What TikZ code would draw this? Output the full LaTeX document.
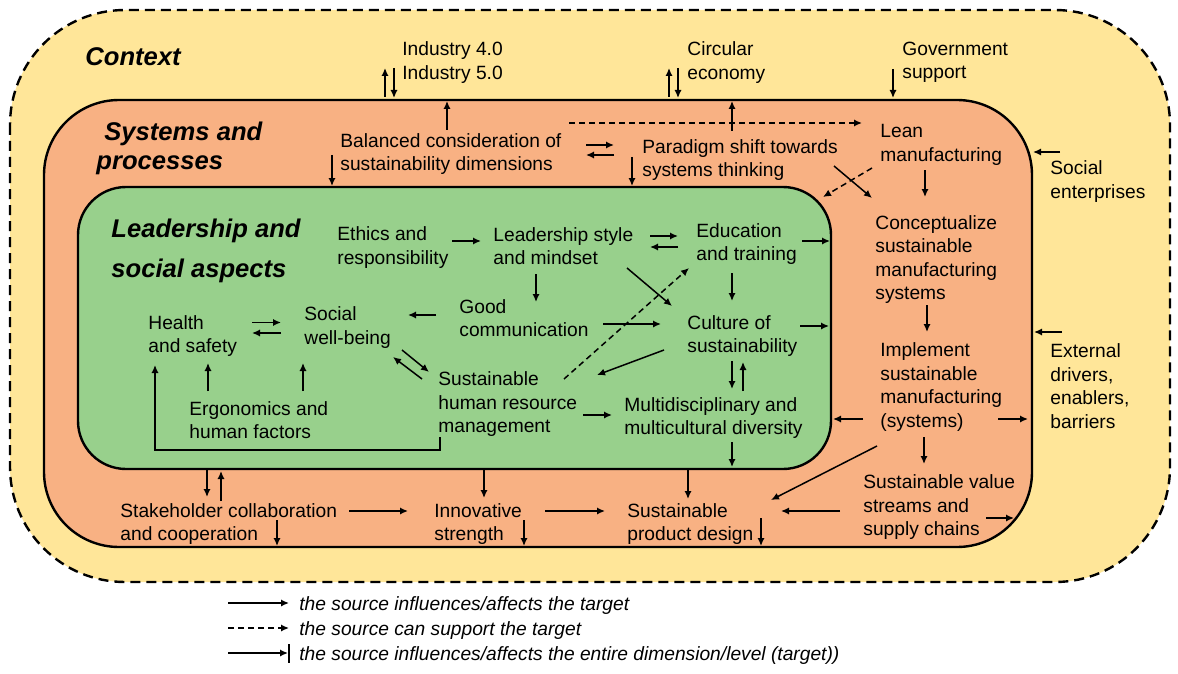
\documentclass[tikz,border=0pt]{standalone}
\usepackage{fontspec}
\setmainfont{Liberation Sans}
\usetikzlibrary{arrows.meta,calc}

\definecolor{ctxyellow}{HTML}{FFE699}
\definecolor{sysorange}{HTML}{F8B183}
\definecolor{ledgreen}{HTML}{98D08C}

\tikzset{
  lbl/.style={anchor=west, align=left, inner sep=0pt, font=\fontsize{9.6}{11.75}\selectfont},
  lgd/.style={lbl, font=\fontsize{9.6}{11.75}\selectfont\itshape},
  ttl/.style={anchor=west, align=left, inner sep=0pt},
  arr/.style={line width=0.75pt, -{Latex[length=4pt,width=3.6pt]}},
  darr/.style={arr, dash pattern=on 3pt off 2pt},
  level/.style={line width=1.2pt},
}

\begin{document}
\begin{tikzpicture}[x=0.5pt,y=-0.5pt]
\useasboundingbox (0,0) rectangle (1178,674);

% the three levels
\draw[level, fill=ctxyellow, dash pattern=on 5pt off 3pt, rounded corners=57.5pt] (10,10) rectangle (1170,582);
\draw[level, fill=sysorange, rounded corners=37.5pt] (44,100) rectangle (1032,547);
\draw[level, fill=ledgreen, rounded corners=24pt] (78,187) rectangle (831,469);

% titles
\node[ttl, font=\fontsize{12.8}{14.5}\selectfont\bfseries\itshape] (context) at (85,56.5) {Context};
\node[ttl, font=\fontsize{12.8}{14.5}\selectfont\bfseries\itshape] (systems) at (96,148) {\hspace*{4pt}Systems and\\processes};
\node[ttl, font=\fontsize{12.8}{20}\selectfont\bfseries\itshape] (leader) at (111,250.5) {Leadership and\\social aspects};

% context
\node[lbl] (ind) at (402,62.5) {Industry 4.0\\Industry 5.0};
\node[lbl] (circ) at (687,62.5) {Circular\\economy};
\node[lbl] (gov) at (902,62.5) {Government\\support};
\node[lbl] (socent) at (1050,181.5) {Social\\enterprises};
\node[lbl] (ext) at (1050,386) {External\\drivers,\\enablers,\\barriers};

% systems and processes
\node[lbl] (bal) at (340,154) {Balanced consideration of\\sustainability dimensions};
\node[lbl] (para) at (642,160) {Paradigm shift towards\\systems thinking};
\node[lbl] (lean) at (880,145) {Lean\\manufacturing};
\node[lbl] (concept) at (875,259.5) {Conceptualize\\sustainable\\manufacturing\\systems};
\node[lbl] (impl) at (880,387) {Implement\\sustainable\\manufacturing\\(systems)};
\node[lbl] (valst) at (863,507.5) {Sustainable value\\streams and\\supply chains};
\node[lbl] (prod) at (627,524) {Sustainable\\product design};
\node[lbl] (innov) at (434,524) {Innovative\\strength};
\node[lbl] (stake) at (120,524) {Stakeholder collaboration\\and cooperation};

% leadership and social aspects
\node[lbl] (ethics) at (337,247.5) {Ethics and\\responsibility};
\node[lbl] (lead) at (493,246) {Leadership style\\and mindset};
\node[lbl] (edu) at (696,244) {Education\\and training};
\node[lbl] (good) at (459,318) {Good\\communication};
\node[lbl] (culture) at (687,336) {Culture of\\sustainability};
\node[lbl] (social) at (304,327.5) {Social\\well-being};
\node[lbl] (health) at (148,336) {Health\\and safety};
\node[lbl] (ergo) at (189,420) {Ergonomics and\\human factors};
\node[lbl] (shrm) at (438,404.5) {Sustainable\\human resource\\management};
\node[lbl] (multi) at (624,418) {Multidisciplinary and\\multicultural diversity};

% arrows, context
\draw[arr] (ind.west) ++(-17,34.5) -- ++(0,-29);
\draw[arr] (ind.west) ++(-8,5.5) -- ++(0,30);
\draw[arr] (circ.west) ++(-18,34.5) -- ++(0,-29);
\draw[arr] (circ.west) ++(-9,5.5) -- ++(0,30);
\draw[arr] (gov.west) ++(-9,6.5) -- ++(0,29);
\draw[arr] (socent.west) ++(10,-29.5) -- ++(-27,0);
\draw[arr] (ext.west) ++(12,-54) -- ++(-28,0);

% arrows, systems and processes
\draw[arr] (bal.west) ++(107,-24) -- ++(0,-29);
\draw[arr] (para.west) ++(90,-29) -- ++(0,-30);
\draw[darr] (bal.west) ++(229,-31) -- ++(293,0);
\draw[arr] (bal.west) ++(246,-9) -- ++(28,0);
\draw[arr] (para.west) ++(-28,-5) -- ++(-28,0);
\draw[arr] (bal.west) ++(-8,1) -- ++(0,31);
\draw[arr] (para.west) ++(-10,-3) -- ++(0,29);
\draw[arr] (para.west) ++(192,6) -- ++(38,32);
\draw[darr] (lean.west) ++(-8,23) -- ++(-49,29);
\draw[arr] (lean.west) ++(45,25) -- ++(0,27);
\draw[arr] (concept.west) ++(52,45.5) -- ++(0,27);
\draw[arr] (impl.west) ++(118,32) -- ++(30,0);
\draw[arr] (impl.west) ++(-17,32) -- ++(-30,0);
\draw[arr] (impl.west) ++(44,50) -- ++(0,27);
\draw[arr] (impl.west) ++(-3,59) -- ++(-106,54);
\draw[arr] (valst.west) ++(-23,3.5) -- ++(-59,0);
\draw[arr] (valst.west) ++(123,10.5) -- ++(28,0);
\draw[arr] (prod.west) ++(134,-6) -- ++(0,28);
\draw[arr] (prod.west) ++(61,-54) -- ++(0,29);
\draw[arr] (innov.west) ++(111,-13) -- ++(60,0);
\draw[arr] (innov.west) ++(90,-4) -- ++(0,26);
\draw[arr] (innov.west) ++(50,-54) -- ++(0,28);
\draw[arr] (stake.west) ++(229,-13) -- ++(59,0);
\draw[arr] (stake.west) ++(157,-4) -- ++(0,26);
\draw[arr] (stake.west) ++(87,-54) -- ++(0,27);
\draw[arr] (stake.west) ++(101,-23) -- ++(0,-30);
\draw[arr] (multi.west) ++(108,24) -- ++(0,25);

% arrows, leadership and social aspects
\draw[arr] (ethics.west) ++(115,-6.5) -- ++(29,0);
\draw[arr] (lead.west) ++(157,-10) -- ++(28,0);
\draw[arr] (edu.west) ++(-18,3) -- ++(-28,0);
\draw[arr] (lead.west) ++(43,28) -- ++(0,28);
\draw[arr] (lead.west) ++(134,22) -- ++(45,38);
\draw[darr] (shrm.west) ++(126,-25.5) -- ++(125,-111);
\draw[arr] (good.west) ++(144,6) -- ++(58,0);
\draw[arr] (edu.west) ++(36,29) -- ++(0,28);
\draw[arr] (culture.west) ++(-23,14) -- ++(-67,25);
\draw[arr] (culture.west) ++(45,25) -- ++(0,28);
\draw[arr] (multi.west) ++(119,-27) -- ++(0,-29);
\draw[arr] (shrm.west) ++(145,10.5) -- ++(29,0);
\draw[arr] (edu.west) ++(106,-3) -- ++(28,0);
\draw[arr] (culture.west) ++(113,-10) -- ++(29,0);
\draw[arr] (good.west) ++(-23,-3) -- ++(-28,0);
\draw[arr] (social.west) ++(98,22.5) -- ++(27,22);
\draw[arr] (shrm.west) ++(-16,-25.5) -- ++(-29,-22);
\draw[arr] (health.west) ++(104,-13.5) -- ++(29,0);
\draw[arr] (social.west) ++(-23,5.5) -- ++(-29,0);
\draw[arr] (ergo.west) ++(19,-29) -- ++(0,-28);
\draw[arr] (ergo.west) ++(114,-29) -- ++(0,-28);
\draw[arr] (shrm.west) ++(2,32.5) -- ++(0,13) -| ++(-285,-85);

% legend
\node[lgd] (lg1) at (299,605.5) {the source influences/affects the target};
\node[lgd] (lg2) at (299,630.5) {the source can support the target};
\node[lgd] (lg3) at (299,655.5) {the source influences/affects the entire dimension/level (target))};
\draw[arr] (lg1.west) ++(-71,-2.5) -- ++(61,0);
\draw[darr] (lg2.west) ++(-71,-2.5) -- ++(61,0);
\draw[arr] (lg3.west) ++(-71,-2.5) -- ++(60,0);
\draw[line width=0.75pt] (lg3.west) ++(-10,-11.5) -- ++(0,19);
\end{tikzpicture}
\end{document}
